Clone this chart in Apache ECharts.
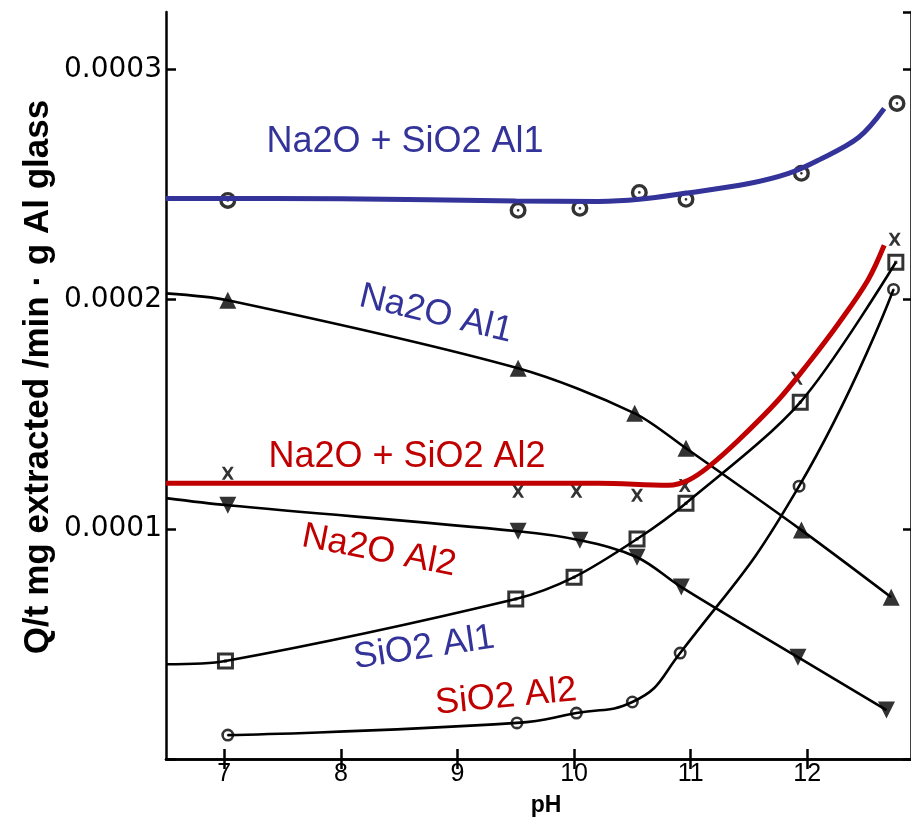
<!DOCTYPE html>
<html><head><meta charset="utf-8">
<script src="https://cdn.jsdelivr.net/npm/echarts@6/dist/echarts.min.js"></script>
<style>html,body{margin:0;padding:0;background:#fff}#c{width:911px;height:820px}</style>
</head><body><div id="c"></div>
<script>
// ---- axis ticks ----
const xTicks = [7, 8, 9, 10, 11, 12];
const yTicks = [0.0001, 0.0002, 0.0003];

// ---- Na2O + SiO2, Al1 glass (open circles) ----
const naSiAl1_pH  = [7.03, 9.52, 10.05, 10.56, 10.96, 11.95, 12.77];
const naSiAl1_val = [2.430e-4, 2.387e-4, 2.396e-4, 2.465e-4, 2.435e-4, 2.548e-4, 2.852e-4];
// blue highlighted curve
const naSiAl1_curve_pH  = [6.5, 8.0, 9.5, 10.21, 10.56, 10.95, 11.50, 11.84, 12.09, 12.44, 12.66];
const naSiAl1_curve_val = [2.439e-4, 2.437e-4, 2.428e-4, 2.426e-4, 2.435e-4, 2.461e-4, 2.504e-4, 2.548e-4, 2.604e-4, 2.704e-4, 2.830e-4];

// ---- Na2O, Al1 glass (triangles) ----
const naAl1_pH  = [7.03, 9.52, 10.52, 10.96, 11.95, 12.72];
const naAl1_val = [1.996e-4, 1.700e-4, 1.504e-4, 1.352e-4, 0.996e-4, 0.704e-4];
const naAl1_start = [6.5, 2.026e-4];

// ---- Na2O + SiO2, Al2 glass (crosses) ----
const naSiAl2_pH  = [7.03, 9.52, 10.02, 10.54, 10.95, 11.91, 12.75];
const naSiAl2_val = [1.243e-4, 1.165e-4, 1.165e-4, 1.148e-4, 1.190e-4, 1.657e-4, 2.261e-4];
// red highlighted curve
const naSiAl2_curve_pH  = [6.5, 8.5, 10.21, 10.81, 10.98, 11.15, 11.41, 11.75, 12.01, 12.27, 12.52, 12.66];
const naSiAl2_curve_val = [1.200e-4, 1.200e-4, 1.200e-4, 1.191e-4, 1.213e-4, 1.270e-4, 1.387e-4, 1.561e-4, 1.722e-4, 1.896e-4, 2.083e-4, 2.235e-4];

// ---- Na2O, Al2 glass (inverted triangles) ----
const naAl2_pH  = [7.03, 9.52, 10.05, 10.54, 10.92, 11.92, 12.68];
const naAl2_val = [1.104e-4, 0.991e-4, 0.952e-4, 0.878e-4, 0.748e-4, 0.443e-4, 0.213e-4];
const naAl2_start = [6.5, 1.135e-4];

// ---- SiO2, Al1 glass (squares) ----
const siAl1_pH  = [7.01, 9.50, 10.00, 10.54, 10.96, 11.94, 12.76];
const siAl1_val = [0.426e-4, 0.696e-4, 0.791e-4, 0.957e-4, 1.113e-4, 1.552e-4, 2.161e-4];
const siAl1_start = [6.5, 0.412e-4];

// ---- SiO2, Al2 glass (small circles) ----
const siAl2_pH  = [7.03, 9.51, 10.02, 10.50, 10.91, 11.93, 12.74];
const siAl2_val = [0.104e-4, 0.157e-4, 0.200e-4, 0.248e-4, 0.461e-4, 1.187e-4, 2.043e-4];

const BLUE = '#333399', RED = '#c00000';

const SYM_RING = 'path://M0,-10A10,10 0 1,1 0,10A10,10 0 1,1 0,-10Z M0,-6A6,6 0 1,0 0,6A6,6 0 1,0 0,-6Z M0,-1.6A1.6,1.6 0 1,1 0,1.6A1.6,1.6 0 1,1 0,-1.6Z';
const SYM_SQ = 'path://M-10,-10H10V10H-10Z M-6.5,-6.5V6.5H6.5V-6.5Z M-1.8,-1.8H1.8V1.8H-1.8Z';
const SYM_DOWN = 'path://M-10,-8H10L0,10Z';
const SYM_X = 'path://M-8,-9L-4,-9L0,-3L4,-9L8,-9L2.5,0L8,9L4,9L0,3L-4,9L-8,9L-2.5,0Z';

function pts(xs, ys) { return xs.map((x, i) => [x, ys[i]]); }

function blackLine(data, smooth) {
  return { type: 'line', data: data, smooth: smooth, symbol: 'none', silent: true,
           lineStyle: { color: '#000', width: 2.6 }, z: 2 };
}
function markers(data, symbol, size) {
  return { type: 'scatter', data: data, symbol: symbol, symbolSize: size, silent: true,
           itemStyle: { color: '#000' }, z: 3 };
}
function colorLine(data, color) {
  return { type: 'line', data: data, smooth: 0.35, symbol: 'none', silent: true,
           lineStyle: { color: color, width: 5 }, z: 4 };
}

const chart = echarts.init(document.getElementById('c'), null, { renderer: 'canvas' });

const axisLineStyle = { color: '#000', width: 2.5 };
const labelFont = '"Liberation Sans", Arial, sans-serif';

const option = {
  animation: false,
  backgroundColor: '#fff',
  grid: { left: 166, right: -3, top: 12, bottom: 61 },
  xAxis: [
    { type: 'value', min: 6.5, max: 12.89, position: 'bottom',
      axisLine: { lineStyle: axisLineStyle },
      axisTick: { inside: true, length: 10, customValues: xTicks, lineStyle: { color: '#000', width: 2.5 } },
      axisLabel: { customValues: xTicks, color: '#000', fontSize: 25, fontFamily: labelFont, margin: 3 },
      splitLine: { show: false } },
    { type: 'value', min: 6.5, max: 12.89, position: 'top',
      axisLine: { lineStyle: axisLineStyle },
      axisTick: { inside: true, length: 10, customValues: xTicks, lineStyle: { color: '#000', width: 2.5 } },
      axisLabel: { show: false },
      splitLine: { show: false } }
  ],
  yAxis: [
    { type: 'value', min: 0, max: 0.000325, interval: 0.0001, position: 'left',
      axisLine: { lineStyle: axisLineStyle },
      axisTick: { inside: true, length: 10, lineStyle: { color: '#000', width: 2.5 } },
      axisLabel: { color: '#000', fontSize: 28, fontFamily: '"DejaVu Sans", sans-serif', margin: 4,
        showMaxLabel: false,
        formatter: function (v) {
          for (const t of yTicks) { if (Math.abs(v - t) < 1e-9) return t.toFixed(4); }
          return '';
        } },
      splitLine: { show: false } },
    { type: 'value', min: 0, max: 0.000325, interval: 0.0001, position: 'right',
      axisLine: { lineStyle: axisLineStyle },
      axisTick: { inside: true, length: 8, lineStyle: { color: '#000', width: 2.5 } },
      axisLabel: { show: false },
      splitLine: { show: false } }
  ],
  graphic: [
    { type: 'text', x: 38, y: 377, rotation: Math.PI / 2, z: 10,
      style: { text: 'Q/t mg extracted /min \u00b7 g Al glass', fill: '#000', align: 'center', verticalAlign: 'middle',
               font: 'bold 35px "Liberation Sans", Arial, sans-serif' } },
    { type: 'text', x: 546, y: 806, z: 10,
      style: { text: 'pH', fill: '#000', align: 'center', verticalAlign: 'middle',
               font: 'bold 23px "Liberation Sans", Arial, sans-serif' } },
    { type: 'text', x: 405, y: 142, z: 10,
      style: { text: 'Na2O + SiO2 Al1', fill: BLUE, align: 'center', verticalAlign: 'middle', font: '36px "Liberation Sans", Arial, sans-serif' } },
    { type: 'text', x: 436, y: 314, rotation: -13.5 * Math.PI / 180, z: 10,
      style: { text: 'Na2O Al1', fill: BLUE, align: 'center', verticalAlign: 'middle', font: '36px "Liberation Sans", Arial, sans-serif' } },
    { type: 'text', x: 407, y: 457, z: 10,
      style: { text: 'Na2O + SiO2 Al2', fill: RED, align: 'center', verticalAlign: 'middle', font: '36px "Liberation Sans", Arial, sans-serif' } },
    { type: 'text', x: 379, y: 551, rotation: -11 * Math.PI / 180, z: 10,
      style: { text: 'Na2O Al2', fill: RED, align: 'center', verticalAlign: 'middle', font: '36px "Liberation Sans", Arial, sans-serif' } },
    { type: 'text', x: 424, y: 648, rotation: 8.4 * Math.PI / 180, z: 10,
      style: { text: 'SiO2 Al1', fill: BLUE, align: 'center', verticalAlign: 'middle', font: '36px "Liberation Sans", Arial, sans-serif' } },
    { type: 'text', x: 506, y: 697, rotation: 5.5 * Math.PI / 180, z: 10,
      style: { text: 'SiO2 Al2', fill: RED, align: 'center', verticalAlign: 'middle', font: '36px "Liberation Sans", Arial, sans-serif' } }
  ],
  series: [
    // black fitted curves
    blackLine([naAl1_start].concat(pts(naAl1_pH, naAl1_val)), 0.3),
    blackLine([naAl2_start].concat(pts(naAl2_pH, naAl2_val)), 0.35),
    blackLine([siAl1_start].concat(pts(siAl1_pH, siAl1_val)), 0.3),
    blackLine(pts(siAl2_pH, siAl2_val), 0.5),
    // markers
    markers(pts(naSiAl1_pH, naSiAl1_val), SYM_RING, 17),
    markers(pts(naAl1_pH, naAl1_val), 'triangle', 17),
    markers(pts(naSiAl2_pH, naSiAl2_val), SYM_X, [12, 13]),
    markers(pts(naAl2_pH, naAl2_val), SYM_DOWN, 17),
    markers(pts(siAl1_pH, siAl1_val), SYM_SQ, 17),
    markers(pts(siAl2_pH, siAl2_val), SYM_RING, 13),
    // highlighted coloured curves
    colorLine(pts(naSiAl1_curve_pH, naSiAl1_curve_val), BLUE),
    colorLine(pts(naSiAl2_curve_pH, naSiAl2_curve_val), RED)
  ]
};
chart.setOption(option);
</script></body></html>
